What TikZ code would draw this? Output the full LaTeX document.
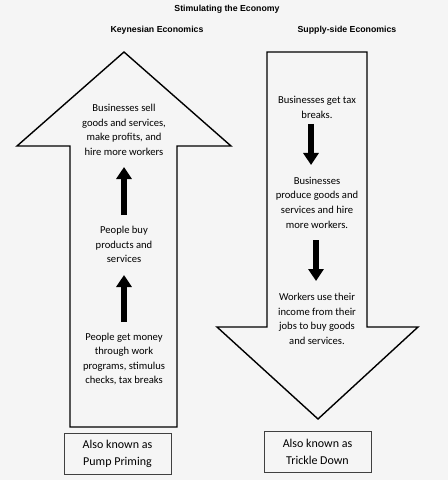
\documentclass[tikz,border=0pt]{standalone}
\usepackage{fontspec}
\setmainfont{Carlito}
\setsansfont{Liberation Sans}
\usetikzlibrary{arrows.meta}
\begin{document}
\begin{tikzpicture}[x=1bp,y=-1bp,
  bigshape/.style={draw=black,line width=1.4bp,line join=miter},
  flowtext/.style={align=center,inner sep=0pt,font=\fontsize{10.6bp}{14.6bp}\selectfont},
  headtext/.style={inner sep=0pt,font=\sffamily\bfseries\fontsize{8.75bp}{10bp}\selectfont},
  akabox/.style={draw=black!75,line width=0.9bp,align=center,minimum width=107bp,minimum height=41bp,inner sep=0pt,font=\fontsize{12bp}{17bp}\selectfont},
  flowarrow/.style={line width=6.5bp,-{Triangle[length=12bp,width=15bp]}}]
\fill[black!4] (0,0) rectangle (448,480);
\useasboundingbox (0,0) rectangle (448,480);
% titles
\node[headtext] (title) at (227,9) {Stimulating the Economy};
\node[headtext] (keyn) at (157,30) {Keynesian Economics};
\node[headtext] (supp) at (347,30) {Supply-side Economics};
% big arrows
\draw[bigshape] (70,427) -- (70,146) -- (17,146) -- (124,52) -- (231,146) -- (177,146) -- (177,427) -- cycle;
\draw[bigshape] (267,52) -- (367,52) -- (367,327) -- (418,327) -- (318,419) -- (217,327) -- (267,327) -- cycle;
% left texts
\node[flowtext] (k3) at (124,130) {Businesses sell\\goods and services,\\make profits, and\\hire more workers};
\node[flowtext] (k2) at (124,244.5) {People buy\\products and\\services};
\node[flowtext] (k1) at (124,359) {People get money\\through work\\programs, stimulus\\checks, tax breaks};
% right texts
\node[flowtext] (s1) at (317,107.5) {Businesses get tax\\breaks.};
\node[flowtext] (s2) at (317,202.5) {Businesses\\produce goods and\\services and hire\\more workers.};
\node[flowtext] (s3) at (317,319) {Workers use their\\income from their\\jobs to buy goods\\and services.};
% small arrows
\coordinate (a1s) at (124,215); \coordinate (a1e) at (124,167);
\coordinate (a2s) at (124,322); \coordinate (a2e) at (124,275);
\coordinate (a3s) at (311,124); \coordinate (a3e) at (311,165);
\coordinate (a4s) at (316,240); \coordinate (a4e) at (316,281);
\draw[flowarrow] (a1s) -- (a1e);
\draw[flowarrow] (a2s) -- (a2e);
\draw[flowarrow] (a3s) -- (a3e);
\draw[flowarrow] (a4s) -- (a4e);
% boxes
\node[akabox] (pump) at (117.5,453.5) {Also known as\\Pump Priming};
\node[akabox] (trickle) at (317.5,452) {Also known as\\Trickle Down};
\end{tikzpicture}
\end{document}
